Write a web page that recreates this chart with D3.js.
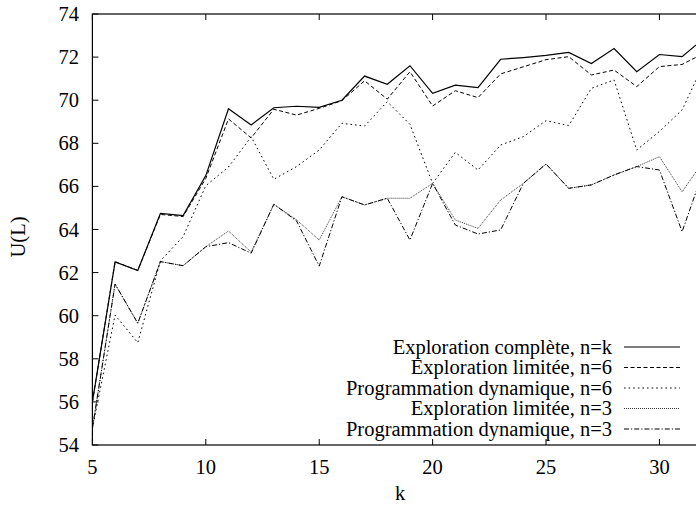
<!DOCTYPE html>
<html><head><meta charset="utf-8">
<script src="https://cdn.jsdelivr.net/npm/d3@7"></script>
<style>html,body{margin:0;padding:0;background:#fff;} svg{display:block;}</style>
</head>
<body>
<svg id="chart" width="696" height="506"></svg>
<script>
const ks = d3.range(5, 33);
const completeK  = [56.0,62.5,62.1,64.75,64.65,66.5,69.6,68.85,69.65,69.72,69.67,70.0,71.12,70.74,71.6,70.32,70.7,70.58,71.9,71.98,72.08,72.22,71.7,72.4,71.32,72.12,72.02,72.9];
const limited6   = [56.0,62.5,62.1,64.7,64.6,66.37,69.13,68.25,69.58,69.31,69.62,69.98,70.9,70.05,71.32,69.73,70.44,70.12,71.22,71.55,71.88,72.02,71.17,71.4,70.63,71.56,71.66,72.2];
const dynamic6   = [54.77,60.03,58.75,62.55,63.67,66.03,66.9,68.3,66.33,66.92,67.69,68.93,68.8,69.93,68.88,66.14,67.58,66.76,67.92,68.31,69.05,68.82,70.55,70.94,67.69,68.55,69.55,71.8];
const limited3   = [54.77,61.47,59.65,62.51,62.32,63.2,63.93,62.95,65.17,64.45,63.51,65.52,65.14,65.45,65.45,66.14,64.44,64.05,65.37,66.14,67.04,65.91,66.07,66.53,66.92,67.38,65.75,67.26];
const dynamic3   = [54.77,61.47,59.65,62.51,62.32,63.2,63.39,62.9,65.17,64.4,62.3,65.52,65.14,65.45,63.51,66.14,64.21,63.79,63.98,66.14,67.04,65.91,66.07,66.53,66.92,66.76,63.9,66.9];
const seriesNames = ["Exploration complète, n=k","Exploration limitée, n=6","Programmation dynamique, n=6","Exploration limitée, n=3","Programmation dynamique, n=3"];
const xTicks = [5,10,15,20,25,30];
const yTicks = [54,56,58,60,62,64,66,68,70,72,74];
const xLabel = "k", yLabel = "U(L)";

const series = [
  {name: seriesNames[0], values: completeK, dash: null,        w: 1.2},
  {name: seriesNames[1], values: limited6,  dash: "4,2.5",     w: 1},
  {name: seriesNames[2], values: dynamic6,  dash: "1.6,3",     w: 1},
  {name: seriesNames[3], values: limited3,  dash: "1,1",       w: 0.8},
  {name: seriesNames[4], values: dynamic3,  dash: "5,2,1.2,2", w: 1}
];

const FS = 20.5;
const svg = d3.select("#chart");
const L = 92.4, T = 14, B = 445;
const x = d3.scaleLinear().domain([5, 32]).range([L, 704.8]);
const y = d3.scaleLinear().domain([54, 74]).range([B, T]);
const R = x(32);

svg.append("defs").append("clipPath").attr("id","clip")
  .append("rect").attr("x",L).attr("y",T).attr("width",R-L).attr("height",B-T);

// ticks (inward, mirrored)
const tl = 6;
const g = svg.append("g").attr("stroke","#000").attr("stroke-width",1);
xTicks.forEach(v => {
  g.append("line").attr("x1",x(v)).attr("x2",x(v)).attr("y1",B).attr("y2",B-tl);
  g.append("line").attr("x1",x(v)).attr("x2",x(v)).attr("y1",T).attr("y2",T+tl);
});
yTicks.forEach(v => {
  g.append("line").attr("x1",L).attr("x2",L+tl).attr("y1",y(v)).attr("y2",y(v));
  g.append("line").attr("x1",R).attr("x2",R-tl).attr("y1",y(v)).attr("y2",y(v));
});

function txt(sel){
  sel.style("font-family", "'Liberation Serif', monospace").attr("font-size", FS).attr("fill","#000");
}

// tick labels
svg.append("g").selectAll("text").data(xTicks).join("text")
  .call(txt).attr("x", d => x(d)).attr("y", 474).attr("text-anchor","middle").text(d => d);
svg.append("g").selectAll("text").data(yTicks).join("text")
  .call(txt).attr("x", 79).attr("y", d => y(d) + 7).attr("text-anchor","end").text(d => d);

// axis titles
svg.append("text").call(txt).attr("x", 400).attr("y", 500).attr("text-anchor","middle").text(xLabel);
svg.append("text").call(txt).attr("transform","translate(25,237) rotate(-90)")
  .attr("text-anchor","middle").text(yLabel);

// lines
const line = d3.line().x((d,i) => x(ks[i])).y(d => y(d));
const lg = svg.append("g").attr("clip-path","url(#clip)");
series.forEach(s => {
  lg.append("path").attr("d", line(s.values)).attr("fill","none")
    .attr("stroke","#000").attr("stroke-width", s.w)
    .attr("stroke-dasharray", s.dash);
});

// legend
const leg = svg.append("g");
series.forEach((s, i) => {
  const cy = 347 + i * 20.5;
  leg.append("text").call(txt).attr("x", 612).attr("y", cy + 6.5).attr("text-anchor","end").text(s.name);
  leg.append("line").attr("x1", 624).attr("x2", 680).attr("y1", cy).attr("y2", cy)
    .attr("stroke","#000").attr("stroke-width", s.w).attr("stroke-dasharray", s.dash);
});

// border
svg.append("rect").attr("x",L).attr("y",T).attr("width",R-L).attr("height",B-T)
  .attr("fill","none").attr("stroke","#000").attr("stroke-width",1.2);
</script>
</body></html>
